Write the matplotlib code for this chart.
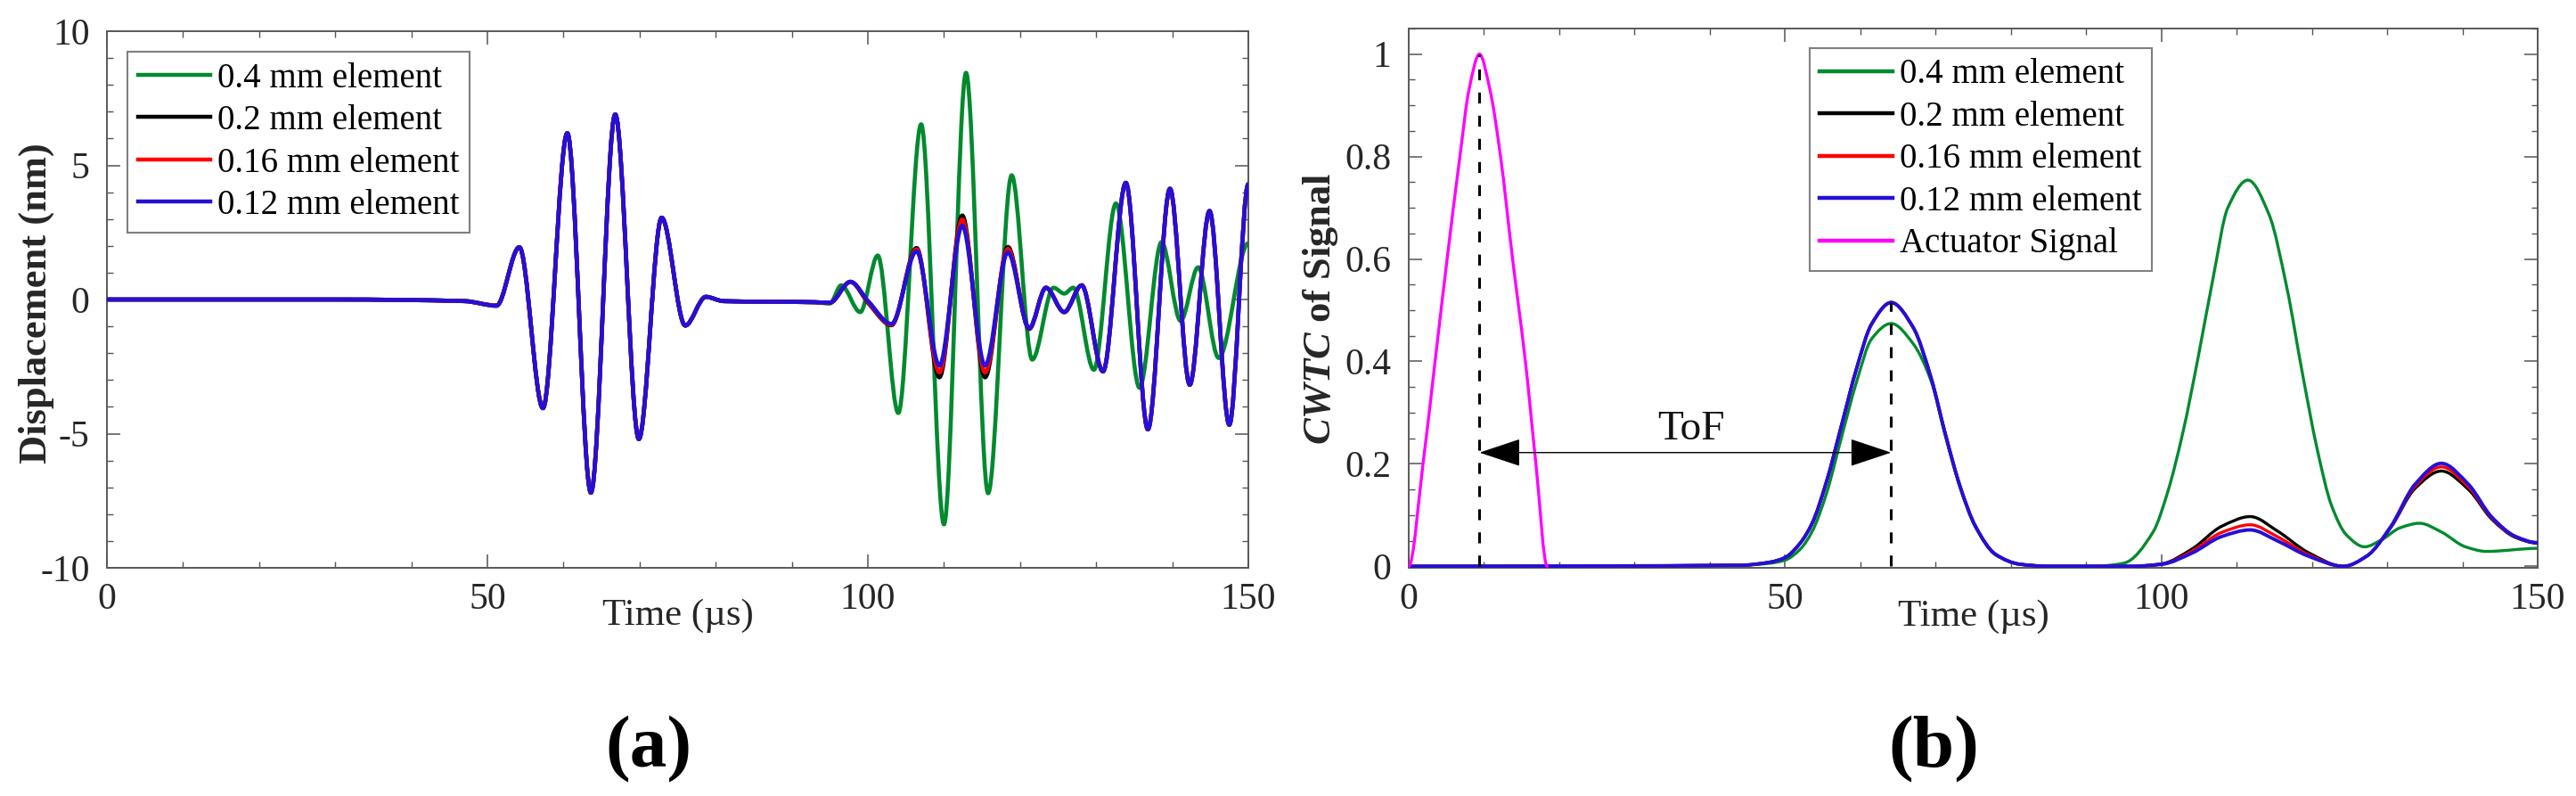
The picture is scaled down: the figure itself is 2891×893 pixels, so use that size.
import numpy as np
import matplotlib
matplotlib.use('Agg')
import matplotlib.pyplot as plt
from matplotlib.path import Path
from matplotlib.patches import PathPatch
from matplotlib.lines import Line2D
from matplotlib.ticker import MultipleLocator, FuncFormatter

# values (extrema / envelope samples)

# (a) displacement, nm. first packet is the same for all four meshes
WAVE_START_T = [0, 30, 47, 51.2, 54.2, 57.3, 60.5, 63.6, 66.8, 69.9, 72.9, 76.0, 78.7, 81.0, 93.0]
WAVE_START_V = [0.0, 0.0, -0.06, -0.23, 1.95, -4.05, 6.2, -7.2, 6.9, -5.2, 3.05, -0.97, 0.1, -0.06, -0.1]

GREEN_WAVE_T = [95.0, 96.5, 99.0, 101.3, 104.0, 107.0, 110.0, 112.9, 115.8, 118.9, 121.6,
                124.4, 125.8, 127.0, 129.7, 132.6, 135.7, 138.6, 141.1, 143.4, 146.1, 150]
GREEN_WAVE_V = [-0.15, 0.53, -0.47, 1.64, -4.23, 6.53, -8.38, 8.45, -7.22, 4.63, -2.24,
                0.44, 0.22, 0.44, -2.62, 3.58, -3.29, 2.14, -0.8, 1.2, -2.18, 2.1]

MID_WAVE_T = [95.0, 97.7, 100.1, 103.1, 106.4, 109.4, 112.4, 115.4, 118.4, 121.2]
BLACK_MID_V = [-0.12, 0.66, -0.15, -0.96, 1.92, -2.90, 3.13, -2.90, 1.96, -1.10]
RED_MID_V = [-0.12, 0.66, -0.12, -0.94, 1.87, -2.72, 2.98, -2.72, 1.88, -1.08]
BLUE_MID_V = [-0.12, 0.66, -0.08, -0.91, 1.80, -2.46, 2.75, -2.46, 1.76, -1.07]

TAIL_WAVE_T = [123.4, 125.8, 128.1, 130.9, 133.9, 136.8, 139.7, 142.3, 144.9, 147.5, 150]
TAIL_WAVE_V = [0.44, -0.47, 0.53, -2.68, 4.35, -4.84, 4.13, -3.18, 3.3, -4.67, 4.3]

# (b) CWTC envelopes
CWTC_EARLY_T = [0, 44, 48, 50, 52, 53.6, 55.5, 57.5, 59.5, 61.5, 64.1, 67.0, 69.4, 71.3, 73.3, 75.3, 78.0, 81.2, 85]
BLUE_EARLY_V = [0, 0.002, 0.008, 0.017, 0.045, 0.084, 0.165, 0.275, 0.386, 0.473, 0.515, 0.467, 0.368, 0.258, 0.154, 0.078, 0.023, 0.004, 0]
GREEN_EARLY_V = [0, 0.002, 0.006, 0.012, 0.033, 0.068, 0.142, 0.252, 0.36, 0.444, 0.474, 0.435, 0.362, 0.255, 0.152, 0.077, 0.022, 0.004, 0]

CWTC_LATE_T = [96, 100.1, 104.1, 108.0, 111.8, 115.5, 119.5, 124.2, 127.3, 130.5, 133.7, 137.2, 140.8, 143.9, 147.1, 150]
BLACK_LATE_V = [0, 0.005, 0.034, 0.078, 0.097, 0.068, 0.027, 0.0, 0.020, 0.076, 0.152, 0.186, 0.150, 0.092, 0.056, 0.045]
RED_LATE_V = [0, 0.004, 0.030, 0.066, 0.081, 0.057, 0.023, 0.0, 0.020, 0.077, 0.156, 0.194, 0.155, 0.094, 0.057, 0.046]
BLUE_LATE_V = [0, 0.004, 0.026, 0.058, 0.071, 0.049, 0.020, 0.0, 0.020, 0.078, 0.160, 0.201, 0.160, 0.096, 0.058, 0.046]

GREEN_LATE_T = [91.1, 95.0, 98.9, 100.9, 102.9, 104.9, 106.9, 108.8, 111.5, 114.3, 116.7, 118.7,
                120.7, 122.6, 124.6, 127.0, 129.3, 131.7, 134.3, 137.2, 140.4, 143.2, 150]
GREEN_LATE_V = [0, 0.006, 0.067, 0.148, 0.264, 0.409, 0.565, 0.699, 0.754, 0.687, 0.542, 0.380,
                0.229, 0.119, 0.061, 0.038, 0.052, 0.075, 0.084, 0.067, 0.038, 0.029, 0.035]

ACT_T = [0, 1.9, 3.5, 5.1, 6.8, 8.0, 9.4, 10.8, 12.2, 13.8, 15.5, 16.9, 18.4]
ACT_V = [0, 0.2, 0.4, 0.6, 0.8, 0.93, 1.0, 0.93, 0.8, 0.6, 0.4, 0.2, 0]

LABELS = ['0.4 mm element', '0.2 mm element', '0.16 mm element', '0.12 mm element']
COLORS = ['#008a2e', '#000000', '#ff0000', '#2410d8']
ACT_LABEL = 'Actuator Signal'
ACT_COLOR = '#ff00ff'
TOF_Y = 0.222

plt.rcParams['font.family'] = ['Liberation Serif', 'DejaVu Serif']
plt.rcParams['mathtext.fontset'] = 'custom'
plt.rcParams['mathtext.rm'] = 'Liberation Serif'
plt.rcParams['mathtext.it'] = 'Liberation Serif:italic:bold'
plt.rcParams['axes.unicode_minus'] = False


def slopes(t, v):
    # monotone (pchip style) tangents, flat at the ends and at extrema
    t = np.asarray(t, float)
    v = np.asarray(v, float)
    h = np.diff(t)
    d = np.diff(v) / h
    m = np.zeros_like(v)
    for i in range(1, len(v) - 1):
        if d[i - 1] * d[i] > 0:
            w1 = 2 * h[i] + h[i - 1]
            w2 = h[i] + 2 * h[i - 1]
            m[i] = (w1 + w2) / (w1 / d[i - 1] + w2 / d[i])
    return t, v, m


def curve(ax, t, v, color, lw, z=2):
    # bezier path through the read points, drawn in data coords
    t, v, m = slopes(t, v)
    verts = [(t[0], v[0])]
    codes = [Path.MOVETO]
    for i in range(len(t) - 1):
        h = t[i + 1] - t[i]
        verts += [(t[i] + h / 3, v[i] + m[i] * h / 3),
                  (t[i + 1] - h / 3, v[i + 1] - m[i + 1] * h / 3),
                  (t[i + 1], v[i + 1])]
        codes += [Path.CURVE4] * 3
    p = PathPatch(Path(verts, codes), fill=False, edgecolor=color, lw=lw,
                  transform=ax.transData, zorder=z, joinstyle='round', capstyle='round')
    ax.add_patch(p)


def style_axes(ax, ymajor, yminor):
    ax.set_xlim(0, 150)
    ax.xaxis.set_major_locator(MultipleLocator(50))
    ax.xaxis.set_minor_locator(MultipleLocator(10))
    ax.yaxis.set_major_locator(MultipleLocator(ymajor))
    ax.yaxis.set_minor_locator(MultipleLocator(yminor))
    fmt = FuncFormatter(lambda x, p: '%g' % round(x, 6))
    ax.xaxis.set_major_formatter(fmt)
    ax.yaxis.set_major_formatter(fmt)
    ax.tick_params(which='both', direction='in', top=True, right=True,
                   color='#555555', labelcolor='#262626', labelsize=30)
    ax.tick_params(which='major', length=11, width=1.1)
    ax.tick_params(which='minor', length=5, width=1.0)
    ax.tick_params(axis='x', pad=12)
    ax.tick_params(axis='y', pad=14)
    for s in ax.spines.values():
        s.set_color('#595959')
        s.set_linewidth(1.4)


def add_legend(ax, handles, labels, anchor):
    leg = ax.legend(handles, labels, loc='upper left', bbox_to_anchor=anchor,
                    borderaxespad=0, fontsize=28, handlelength=2.1, handletextpad=0.2,
                    labelspacing=0.27, borderpad=0.3, fancybox=False, framealpha=1,
                    edgecolor='#808080')
    leg.get_frame().set_linewidth(1.5)
    return leg


W, H = 2891, 893
fig = plt.figure(figsize=(W / 100, H / 100), dpi=100)
ax1 = fig.add_axes([120 / W, 1 - 637 / H, 1281 / W, 602 / H])
ax2 = fig.add_axes([1581 / W, 1 - 637 / H, 1267 / W, 605 / H])

# ---- (a) displacement
mids = [None, BLACK_MID_V, RED_MID_V, BLUE_MID_V]
for k in range(4):
    if k == 0:
        t = WAVE_START_T + GREEN_WAVE_T
        v = WAVE_START_V + GREEN_WAVE_V
    else:
        t = WAVE_START_T + MID_WAVE_T + TAIL_WAVE_T
        v = WAVE_START_V + mids[k] + TAIL_WAVE_V
    curve(ax1, t, v, COLORS[k], 3.3, z=2 + k)

ax1.set_ylim(-10, 10)
style_axes(ax1, 5, 1)
ax1.set_xlabel('Time (\u00b5s)', fontsize=31, color='#262626', va='top')
ax1.xaxis.set_label_coords(0.5, -0.058)
ax1.set_ylabel('Displacement (nm)', fontsize=32, fontweight='bold', color='#262626', va='center')
ax1.yaxis.set_label_coords(-0.062, 0.493)

add_legend(ax1, [Line2D([], [], color=c, lw=3.2) for c in COLORS], LABELS, (0.018, 0.962))

# ---- (b) CWTC
late = [GREEN_LATE_V, BLACK_LATE_V, RED_LATE_V, BLUE_LATE_V]
for k in range(4):
    if k == 0:
        t = CWTC_EARLY_T + GREEN_LATE_T
        v = GREEN_EARLY_V + GREEN_LATE_V
    else:
        t = CWTC_EARLY_T + CWTC_LATE_T
        v = BLUE_EARLY_V + late[k]
    curve(ax2, t, v, COLORS[k], 2.8 if k == 3 else 2.4, z=2 + k)
curve(ax2, ACT_T, ACT_V, ACT_COLOR, 2.4, z=6)

# time of flight markers at the two envelope peaks
t0 = ACT_T[int(np.argmax(ACT_V))]
v0 = max(ACT_V)
t1 = CWTC_EARLY_T[int(np.argmax(BLUE_EARLY_V))]
v1 = max(BLUE_EARLY_V)
ax2.plot([t0, t0], [0, v0], color='black', lw=2.2, ls=(0, (4, 4.5)), zorder=7)
ax2.plot([t1, t1], [0, v1], color='black', lw=2.2, ls=(0, (4, 4.5)), zorder=7)
ax2.annotate('', xy=(t0, TOF_Y), xytext=(t1, TOF_Y),
             arrowprops=dict(arrowstyle='<|-|>,head_length=3.0,head_width=1.0',
                             mutation_scale=10, color='black', lw=1.0,
                             shrinkA=0, shrinkB=0), zorder=8)
ax2.text((t0 + t1) / 2 + 0.8, TOF_Y + 0.045, 'ToF', fontsize=34, ha='center', va='center',
         color='#111111')

ax2.set_ylim(-0.003, 1.05)
style_axes(ax2, 0.2, 0.05)
ax2.set_xlabel('Time (\u00b5s)', fontsize=31, color='#262626', va='top')
ax2.xaxis.set_label_coords(0.5, -0.058)
ax2.set_ylabel(r'$\mathit{CWTC}$ of Signal', fontsize=32, fontweight='bold', color='#262626',
               va='center')
ax2.yaxis.set_label_coords(-0.078, 0.481)

add_legend(ax2, [Line2D([], [], color=c, lw=3.2) for c in COLORS + [ACT_COLOR]],
           LABELS + [ACT_LABEL], (0.355, 0.964))

# panel letters
fig.text(728 / W, 1 - 841 / H, '(a)', fontsize=60, fontweight='bold', ha='center', va='center')
fig.text(2170 / W, 1 - 841 / H, '(b)', fontsize=60, fontweight='bold', ha='center', va='center')

fig.savefig('out.png', dpi=100)
